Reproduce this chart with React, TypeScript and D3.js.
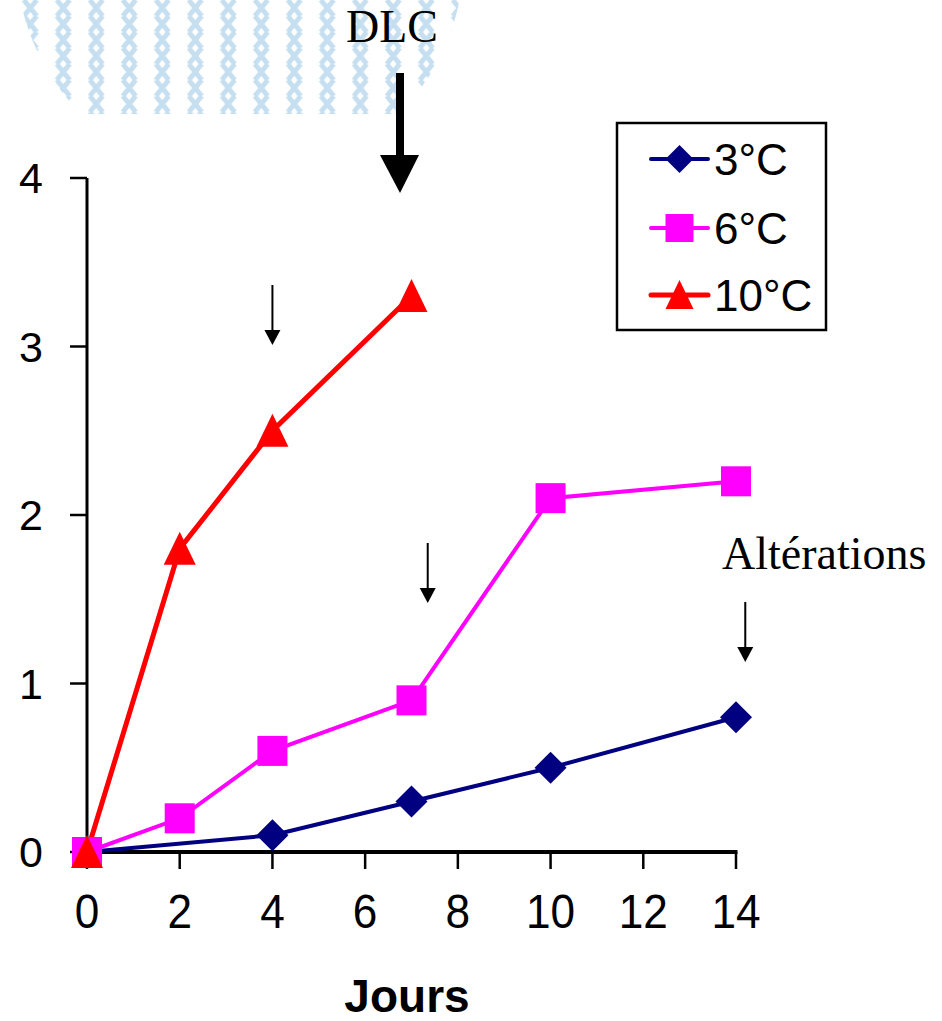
import React from "react";
import * as d3 from "d3";

const days3 = [0, 4, 7, 10, 14];
const vals3 = [0, 0.1, 0.3, 0.5, 0.8];
const days6 = [0, 2, 4, 7, 10, 14];
const vals6 = [0, 0.2, 0.6, 0.9, 2.1, 2.2];
const days10 = [0, 2, 4, 7];
const vals10 = [0, 1.8, 2.5, 3.3];
const xTicks = [0, 2, 4, 6, 8, 10, 12, 14];
const yTicks = [0, 1, 2, 3, 4];
const seriesNames = ["3°C", "6°C", "10°C"];
const seriesColors = ["#000080", "#FF00FF", "#FF0000"];
const smallArrowDays = [4, 7.35, 14.2];

const W = 942;
const H = 1021;

function marker(kind: number, x: number, y: number, s: number, color: string, key?: string) {
  if (kind === 0) {
    return <path key={key} d={`M${x},${y - s}L${x + s},${y}L${x},${y + s}L${x - s},${y}Z`} fill={color} />;
  }
  if (kind === 1) {
    return <rect key={key} x={x - s} y={y - s} width={2 * s} height={2 * s} fill={color} />;
  }
  return <path key={key} d={`M${x},${y - s - 1}L${x + s},${y + s}L${x - s},${y + s}Z`} fill={color} />;
}

export default function App() {
  const x = d3.scaleLinear().domain([0, 14]).range([87, 736]);
  const y = d3.scaleLinear().domain([0, 4]).range([852, 178]);
  const line = d3
    .line<[number, number]>()
    .x((d) => x(d[0]))
    .y((d) => y(d[1]));

  const series = [
    { days: days3, vals: vals3 },
    { days: days6, vals: vals6 },
    { days: days10, vals: vals10 },
  ];
  const smallArrowTop = [285, 543, 602];

  return (
    <svg width={W} height={H} style={{ position: "absolute", left: 0, top: 0, background: "#fff" }}>
      <defs>
        <pattern id="hatch" patternUnits="userSpaceOnUse" x={13.75} y={0} width={33} height={16}>
          <path d="M10,0L23,16M23,0L10,16" stroke="#c6dff0" strokeWidth={5} fill="none" />
        </pattern>
        <clipPath id="circ">
          <circle cx={240} cy={-44} r={224} />
        </clipPath>
      </defs>
      <rect x={0} y={0} width={470} height={114} fill="url(#hatch)" clipPath="url(#circ)" />

      {/* axes */}
      <line x1={87} x2={87} y1={y(4)} y2={y(0) + 1.5} stroke="#000" strokeWidth={3} />
      <line x1={85.5} x2={x(14) + 1.5} y1={y(0)} y2={y(0)} stroke="#000" strokeWidth={4} />
      {yTicks.map((t) => (
        <g key={"y" + t}>
          <line x1={70} x2={87} y1={y(t)} y2={y(t)} stroke="#000" strokeWidth={2.5} />
          <text x={43} y={y(t) + 15} textAnchor="end" fontFamily="Liberation Sans, Arial, sans-serif" fontSize={43}>
            {t}
          </text>
        </g>
      ))}
      {xTicks.map((t) => (
        <g key={"x" + t}>
          <line x1={x(t)} x2={x(t)} y1={y(0)} y2={y(0) + 17} stroke="#000" strokeWidth={2.5} />
          <text
            transform={`translate(${x(t)},928) scale(0.92,1)`}
            textAnchor="middle"
            fontFamily="Liberation Sans, Arial, sans-serif"
            fontSize={48}
          >
            {t}
          </text>
        </g>
      ))}
      <text x={407} y={1012} textAnchor="middle" fontFamily="Liberation Sans, Arial, sans-serif" fontWeight="bold" fontSize={46}>
        Jours
      </text>

      {/* series */}
      {series.map((s, i) => (
        <path
          key={"l" + i}
          d={line(s.days.map((d, j) => [d, s.vals[j]] as [number, number])) || ""}
          fill="none"
          stroke={seriesColors[i]}
          strokeWidth={i === 2 ? 5 : 4}
        />
      ))}
      {series.map((s, i) => (
        <g key={"m" + i}>
          {s.days.map((d, j) => marker(i, x(d), y(s.vals[j]), i === 1 ? 15 : 16, seriesColors[i], "p" + j))}
        </g>
      ))}

      {/* legend */}
      <rect x={617} y={123} width={209} height={207} fill="#fff" stroke="#000" strokeWidth={2.5} />
      {seriesNames.map((n, i) => {
        const ly = [159, 228, 295][i];
        return (
          <g key={"lg" + i}>
            <line x1={651} x2={708} y1={ly} y2={ly} stroke={seriesColors[i]} strokeWidth={i === 2 ? 5 : 4} strokeLinecap="round" />
            {marker(i, 679.5, ly, 14, seriesColors[i])}
            <text x={714} y={ly + 16} fontFamily="Liberation Sans, Arial, sans-serif" fontSize={44}>
              {n}
            </text>
          </g>
        );
      })}

      {/* DLC annotation */}
      <text x={392} y={42} textAnchor="middle" fontFamily="Liberation Serif, Times New Roman, serif" fontSize={46}>
        DLC
      </text>
      <rect x={396} y={73} width={8} height={84} fill="#000" />
      <path d="M380,155L419,155L400,193Z" fill="#000" />

      {/* small arrows */}
      {smallArrowDays.map((d, i) => {
        const ax = x(d);
        const top = smallArrowTop[i];
        return (
          <g key={"a" + i}>
            <line x1={ax} x2={ax} y1={top} y2={top + 48} stroke="#000" strokeWidth={2} />
            <path d={`M${ax - 8},${top + 45}L${ax + 8},${top + 45}L${ax},${top + 60}Z`} fill="#000" />
          </g>
        );
      })}
      <text x={722} y={569} fontFamily="Liberation Serif, Times New Roman, serif" fontSize={46}>
        Altérations
      </text>
    </svg>
  );
}
